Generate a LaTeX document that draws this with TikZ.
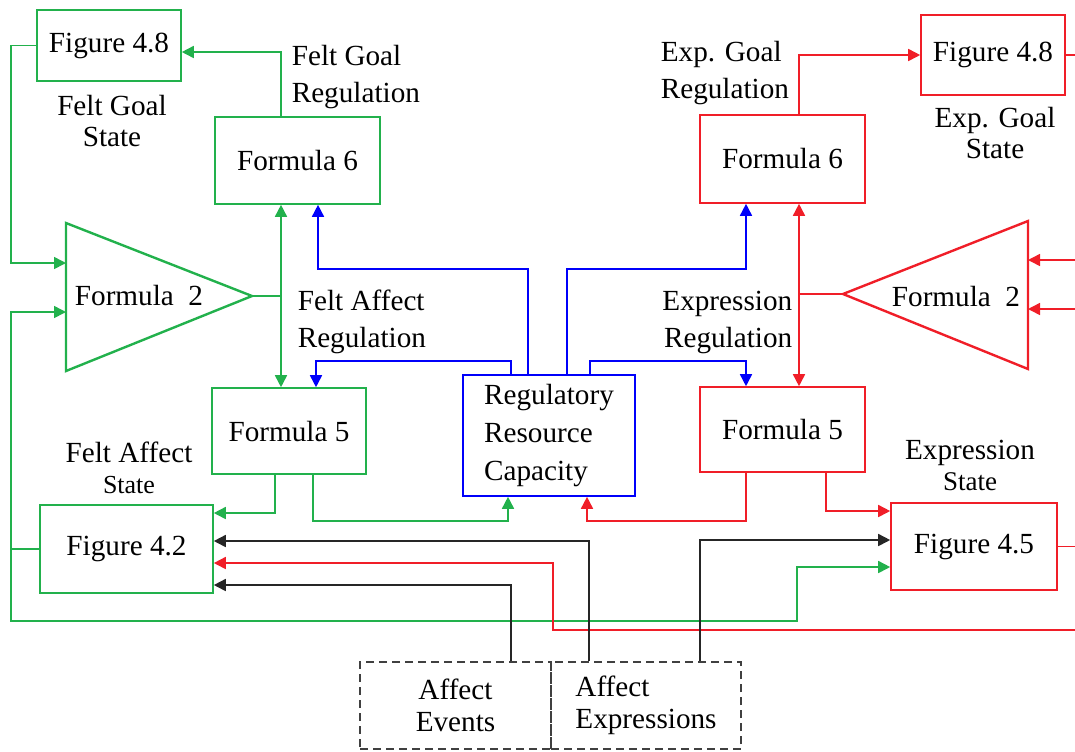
\documentclass[tikz,border=0pt]{standalone}
\usepackage{fontspec}
\setmainfont{Liberation Serif}
\usetikzlibrary{arrows.meta}
\definecolor{fgreen}{RGB}{34,177,76}
\definecolor{fred}{RGB}{240,30,40}
\definecolor{fblue}{RGB}{0,0,250}
\begin{document}
\begin{tikzpicture}[x=0.5pt, y=-0.5pt, line width=0.8pt,
		>={Triangle[length=6pt, width=6pt]},
		font=\rmfamily\fontsize{14.6}{17}\selectfont,
		gbox/.style={draw=fgreen, rectangle, inner sep=2pt},
		rbox/.style={draw=fred, rectangle, inner sep=2pt},
		bbox/.style={draw=fblue, rectangle, inner sep=2pt},
		dbox/.style={draw=black!75, dash pattern=on 4pt off 2.5pt, rectangle, inner sep=2pt},
		reglbl/.style={inner sep=0pt, font=\rmfamily\fontsize{14.6}{18.5}\selectfont},
		statelbl/.style={inner sep=0pt, align=center, font=\rmfamily\fontsize{14.6}{15.5}\selectfont}]
		\useasboundingbox (0,0) rectangle (1075,751);

		\node[gbox, minimum width=72pt, minimum height=35.5pt] (fig48l) at (109,45.5) {Figure 4.8};
		\node[gbox, minimum width=82.5pt, minimum height=43.5pt] (f6l) at (297.5,160.5) {Formula 6};
		\node[gbox, minimum width=77pt, minimum height=43pt] (f5l) at (289,431) {Formula 5};
		\node[gbox, minimum width=86.5pt, minimum height=44pt] (fig42) at (126.5,549) {Figure 4.2};
		\node[bbox, minimum width=86pt, minimum height=60.5pt, align=left, font=\rmfamily\fontsize{14.6}{19}\selectfont] (rrc) at (549,435.5) {Regulatory\\Resource\\Capacity};
		\node[rbox, minimum width=82.5pt, minimum height=44pt] (f6r) at (782.5,159) {Formula 6};
		\node[rbox, minimum width=82.5pt, minimum height=42.5pt] (f5r) at (782.5,429.5) {Formula 5};
		\node[rbox, minimum width=72pt, minimum height=40pt] (fig48r) at (993,55) {Figure 4.8};
		\node[rbox, minimum width=83pt, minimum height=43.5pt] (fig45) at (974,546.5) {Figure 4.5};
		\node[dbox, minimum width=95.5pt, minimum height=43.5pt, align=center, font=\rmfamily\fontsize{14.6}{16}\selectfont] (aev) at (455.5,705.5) {Affect\\Events};
		\node[dbox, minimum width=95pt, minimum height=43.5pt, align=left, font=\rmfamily\fontsize{14.6}{16}\selectfont] (aex) at (646,705.5) {Affect\\Expressions};

		\draw[fgreen, line width=1.2pt] (66,223) -- (252,296) -- (66,371) -- cycle;
		\node (tril) at (139,296) {Formula\ \ 2};
		\draw[fred, line width=1.2pt] (1028,221) -- (843,294) -- (1028,369) -- cycle;
		\node (trir) at (956,297) {Formula\ \ 2};

		\node[reglbl, anchor=west, align=left] (fgreg) at (291,77.5) {Felt Goal\\Regulation};
		\node[reglbl, anchor=west, align=left] (fareg) at (297,321.5) {Felt Affect\\Regulation};
		\node[reglbl, anchor=west, align=left] (egreg) at (660,73.5) {Exp. Goal\\Regulation};
		\node[reglbl, anchor=east, align=right] (exreg) at (793,322.5) {Expression\\Regulation};
		\node[statelbl] (fgst) at (112,121) {Felt Goal\\State};
		\node[statelbl] (egst) at (995,133.5) {Exp. Goal\\State};
		\node[statelbl] (fast) at (129,468) {Felt Affect\\{\fontsize{13}{15}\selectfont State}};
		\node[statelbl] (exst) at (970,465) {Expression\\{\fontsize{13.5}{15}\selectfont State}};

		\coordinate (tlin1) at (66,263);
		\coordinate (tlin2) at (66,312);
		\coordinate (tlapex) at (252,296);
		\coordinate (gjoin) at (281,296);
		\coordinate (gturn) at (797,621);
		\coordinate (trin1) at (1028,260);
		\coordinate (trin2) at (1028,309);
		\coordinate (trapex) at (843,294);
		\coordinate (rjoin) at (799,294);
		\coordinate (rturn) at (553,630);
		\coordinate (redge1) at (1075,55);
		\coordinate (redge2) at (1075,260);
		\coordinate (redge3) at (1075,309);
		\coordinate (redge4) at (1075,546.5);
		\coordinate (redge5) at (1075,630);

		\draw[fgreen, ->] ([xshift=-8.25pt]f6l.north) |- ([yshift=-3.25pt]fig48l.east);
		\draw[fgreen, ->] (fig48l.west) -- ++(-12.5pt,0) |- (tlin1);
		\draw[fgreen, ->] (fig42.west) -- ++(-14pt,0) coordinate (gleft) |- (tlin2);
		\draw[fgreen, ->] (gleft) |- (gturn) |- ([yshift=-10.25pt]fig45.west);
		\draw[fgreen] (tlapex) -- (gjoin);
		\draw[fgreen, ->] (gjoin) -- (gjoin |- f6l.south);
		\draw[fgreen, ->] (gjoin) -- (gjoin |- f5l.north);
		\draw[fgreen, ->] ([xshift=-7pt]f5l.south) |- ([yshift=18pt]fig42.east);
		\draw[fgreen, ->] ([xshift=12pt]f5l.south) -- ++(0,-23pt) -| ([xshift=-20.5pt]rrc.south);

		\draw[fblue, ->] ([xshift=-10.5pt]rrc.north) -- ++(0,52.5pt) -| ([xshift=10.25pt]f6l.south);
		\draw[fblue, ->] ([xshift=-19pt]rrc.north) -- ++(0,6.5pt) -| ([xshift=13.5pt]f5l.north);
		\draw[fblue, ->] ([xshift=9pt]rrc.north) -- ++(0,52.5pt) -| ([xshift=-18.25pt]f6r.south);
		\draw[fblue, ->] ([xshift=20.5pt]rrc.north) -- ++(0,6.5pt) -| ([xshift=-18.25pt]f5r.north);

		\draw[fred, ->] ([xshift=8.25pt]f6r.north) |- (fig48r.west);
		\draw[fred] (fig48r.east) -- (redge1);
		\draw[fred, ->] (redge2) -- (trin1);
		\draw[fred, ->] (redge3) -- (trin2);
		\draw[fred] (trapex) -- (rjoin);
		\draw[fred, ->] (rjoin) -- (rjoin |- f6r.south);
		\draw[fred, ->] (rjoin) -- (rjoin |- f5r.north);
		\draw[fred, ->] ([xshift=-18.25pt]f5r.south) -- ++(0,-24pt) -| ([xshift=19pt]rrc.south);
		\draw[fred, ->] ([xshift=21.75pt]f5r.south) |- ([yshift=17.75pt]fig45.west);
		\draw[fred] (fig45.east) -- (redge4);
		\draw[fred, ->] (redge5) -- (rturn) |- ([yshift=-7pt]fig42.east);

		\draw[black!85, ->] ([xshift=27.75pt]aev.north) |- ([yshift=-18pt]fig42.east);
		\draw[black!85, ->] ([xshift=-28.5pt]aex.north) |- ([yshift=4pt]fig42.east);
		\draw[black!85, ->] ([xshift=27pt]aex.north) |- ([yshift=3.25pt]fig45.west);
	\end{tikzpicture}
\end{document}
